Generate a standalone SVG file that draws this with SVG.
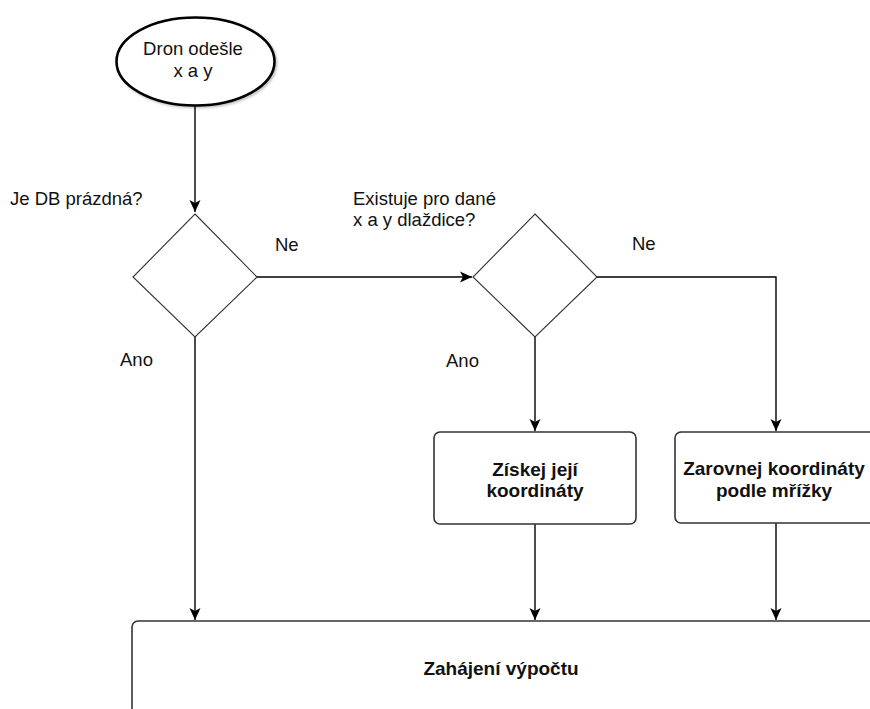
<svg xmlns="http://www.w3.org/2000/svg" width="870" height="709" viewBox="0 0 870 709">
  <style>
    .label { font-family: "Liberation Sans", Arial, sans-serif; font-size: 18.5px; fill: #111; }
    .title { font-family: "Liberation Sans", Arial, sans-serif; font-size: 19px; font-weight: bold; fill: #111; text-anchor: middle; }
    .edge { fill: none; stroke: #000; stroke-width: 1.4; }
    .decision { fill: #fff; stroke: #333; stroke-width: 1.1; }
    .process { fill: #fff; stroke: #333; stroke-width: 1.6; }
  </style>
  <defs>
    <marker id="arrow" markerUnits="userSpaceOnUse" markerWidth="14" markerHeight="14" viewBox="0 0 14 14" refX="12" refY="7" orient="auto">
      <path d="M0,1.5 L12,7 L0,12.5 L3,7 Z" fill="#000"/>
    </marker>
    <filter id="shadow" x="-20%" y="-20%" width="140%" height="140%">
      <feDropShadow dx="1.5" dy="1.5" stdDeviation="1" flood-color="#000" flood-opacity="0.25"/>
    </filter>
  </defs>
  <rect width="870" height="709" fill="#fff"/>

  <!-- connectors -->
  <g id="connectors">
    <path class="edge" d="M195,106 V212" marker-end="url(#arrow)"/>
    <path class="edge" d="M256,277 H472" marker-end="url(#arrow)"/>
    <path class="edge" d="M597,277 H776 V431" marker-end="url(#arrow)"/>
    <path class="edge" d="M535,337 V431" marker-end="url(#arrow)"/>
    <path class="edge" d="M195,337 V620" marker-end="url(#arrow)"/>
    <path class="edge" d="M535,524 V620" marker-end="url(#arrow)"/>
    <path class="edge" d="M776,523 V620" marker-end="url(#arrow)"/>
  </g>

  <!-- start -->
  <g id="start">
    <ellipse cx="195.5" cy="61.5" rx="79" ry="44" fill="#fff" stroke="#000" stroke-width="2.6" filter="url(#shadow)"/>
    <text class="label" x="193" y="55" text-anchor="middle">Dron odešle</text>
    <text class="label" x="193" y="77" text-anchor="middle">x a y</text>
  </g>

  <!-- decision: empty DB -->
  <g id="db-empty">
    <polygon class="decision" points="195,214 257,277 195,337 133,277"/>
    <text class="label" x="10" y="205">Je DB prázdná?</text>
    <text class="label" x="275" y="251">Ne</text>
    <text class="label" x="120" y="366">Ano</text>
  </g>

  <!-- decision: tile exists -->
  <g id="tile-exists">
    <polygon class="decision" points="535,214 597,277 535,337 473,277"/>
    <text class="label" x="353" y="205">Existuje pro dané</text>
    <text class="label" x="353" y="226">x a y dlaždice?</text>
    <text class="label" x="632" y="250">Ne</text>
    <text class="label" x="446" y="367">Ano</text>
  </g>

  <!-- process: get tile coordinates -->
  <g id="get-coords">
    <rect class="process" x="434" y="432" width="202" height="92" rx="6"/>
    <text class="title" x="535" y="476">Získej její</text>
    <text class="title" x="535" y="497">koordináty</text>
  </g>

  <!-- process: snap to grid -->
  <g id="snap-grid">
    <rect class="process" x="675" y="432" width="204" height="91" rx="6"/>
    <text class="title" x="774" y="475">Zarovnej koordináty</text>
    <text class="title" x="774" y="497">podle mřížky</text>
  </g>

  <!-- process: start computation -->
  <g id="compute">
    <rect class="process" x="132" y="621" width="760" height="120" rx="6"/>
    <text class="title" x="501" y="675">Zahájení výpočtu</text>
  </g>
</svg>
